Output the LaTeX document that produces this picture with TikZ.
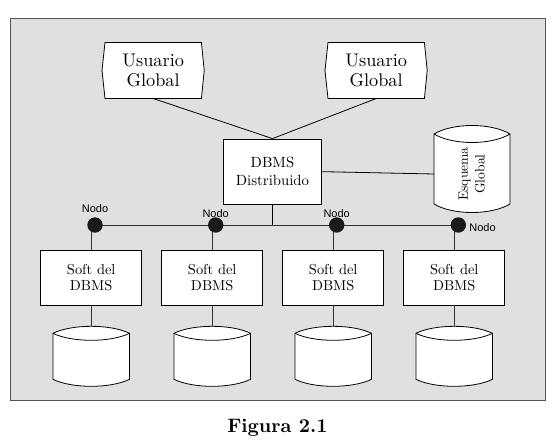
\documentclass[tikz,border=0pt]{standalone}
\usepackage{fontspec}
\setmainfont{lmroman10}[Extension=.otf, UprightFont=*-regular, BoldFont=*-bold]
\newfontfamily\nodofont{Liberation Sans}
\usetikzlibrary{calc}
\definecolor{bggray}{HTML}{E0E0E0}
\definecolor{framegray}{HTML}{555555}
\definecolor{wire}{HTML}{333333}
\definecolor{dotfill}{HTML}{1A1A1A}
\pgfdeclarelayer{back}
\pgfsetlayers{back,main}
% #1 name, #2 x left, #3 x right, #4 y of top corners, #5 y of bottom corners, #6 arc depth
\newcommand\dbcyl[6]{%
  \pgfmathsetmacro\cyca{#2+0.25*(#3-#2)}%
  \pgfmathsetmacro\cycb{#3-0.25*(#3-#2)}%
  \pgfmathsetmacro\cycu{#4-4/3*#6}%
  \pgfmathsetmacro\cycd{#4+4/3*#6}%
  \pgfmathsetmacro\cycbt{#5+4/3*#6}%
  \draw[cyl] (#2,#4) .. controls (\cyca,\cycu) and (\cycb,\cycu) .. (#3,#4)
     -- (#3,#5) .. controls (\cycb,\cycbt) and (\cyca,\cycbt) .. (#2,#5) -- cycle;
  \draw[cylarc] (#2,#4) .. controls (\cyca,\cycd) and (\cycb,\cycd) .. (#3,#4);
  \coordinate (#1-top) at ({(#2+#3)/2},{#4-#6});
}
\begin{document}
\begin{tikzpicture}[x=1pt,y=-1pt,
  usr/.style={minimum width=96pt, minimum height=55.6pt, inner sep=0pt, align=center,
    font=\fontsize{18.3}{19.3}\selectfont},
  usrshape/.style={draw=black, fill=white, line width=0.8pt},
  dbmsbox/.style={draw=black, fill=white, line width=0.8pt, minimum width=98.4pt,
    minimum height=65.3pt, inner sep=0pt, align=center, font=\fontsize{14.8}{17.7}\selectfont},
  softbox/.style={draw=black, fill=white, line width=0.8pt, minimum width=101pt,
    minimum height=55pt, inner sep=0pt, align=center, font=\fontsize{14.4}{16.7}\selectfont},
  nodedot/.style={circle, fill=dotfill, draw=none, minimum size=15.4pt, inner sep=0pt},
  nodolbl/.style={font=\nodofont\fontsize{11}{12}\selectfont, inner sep=0pt},
  wireline/.style={draw=black, line width=0.8pt},
  buswire/.style={draw=wire, line width=0.9pt},
  cyl/.style={draw=black, fill=white, line width=0.8pt},
  cylarc/.style={draw=black, line width=0.8pt}]

\useasboundingbox (0,0) rectangle (556,442);

% frame
\begin{pgfonlayer}{back}
  \draw[draw=framegray, fill=bggray, line width=0.9pt] (10,18.3) rectangle (545,400.7);
\end{pgfonlayer}

% global users
\node[usr] (u1) at (153.2,70.5) {Usuario\\Global};
\node[usr] (u2) at (376.2,70.5) {Usuario\\Global};
\begin{pgfonlayer}{back}
  \foreach \u in {u1,u2}{
    \draw[usrshape] (\u.north west) -- (\u.north east) -- ([xshift=2.8pt]\u.east)
      -- (\u.south east) -- (\u.south west) -- ([xshift=-3pt]\u.west) -- cycle;
  }
\end{pgfonlayer}

% distributed DBMS
\node[dbmsbox] (dbms) at (272.5,171.65) {DBMS\\Distribuido};

% global schema
\dbcyl{esq}{434}{510}{134}{204}{8.5}
\coordinate (esqL) at (434,174);
\node[rotate=90, align=center, inner sep=0pt, font=\fontsize{13.6}{16.7}\selectfont]
  (esqtxt) at (471.8,174) {Esquema\\Global};

% network nodes
\node[nodedot] (n1) at (95,225) {};
\node[nodedot] (n2) at (215.7,225) {};
\node[nodedot] (n3) at (336.7,225) {};
\node[nodedot] (n4) at (458.3,225) {};
\node[nodolbl] (l1) at (95,208.3) {Nodo};
\node[nodolbl] (l2) at (215.7,213.3) {Nodo};
\node[nodolbl] (l3) at (336.7,213.3) {Nodo};
\node[nodolbl] (l4) at (482.5,227.7) {Nodo};

% local DBMS software
\node[softbox] (s1) at (91.2,277.5) {Soft del\\DBMS};
\node[softbox] (s2) at (212.2,277.5) {Soft del\\DBMS};
\node[softbox] (s3) at (333.2,277.5) {Soft del\\DBMS};
\node[softbox] (s4) at (454.2,277.5) {Soft del\\DBMS};

% local databases
\dbcyl{c1}{52.9}{129.5}{333.3}{379.3}{7}
\dbcyl{c2}{173.9}{250.5}{333.3}{379.3}{7}
\dbcyl{c3}{294.9}{371.5}{333.3}{379.3}{7}
\dbcyl{c4}{415.9}{492.5}{333.3}{379.3}{7}

% connectors
\draw[wireline] (u1.south) -- (dbms.north);
\draw[wireline] (u2.south) -- (dbms.north);
\draw[wireline] (dbms.east) -- (esqL);
\coordinate (busmid) at (dbms.south |- n1);
\draw[wireline] (dbms.south) -- (busmid);
\begin{pgfonlayer}{back}
  \draw[buswire] (n1.center) -- (n4.center);
  \foreach \k in {1,2,3,4}{
    \draw[buswire] (s\k.north |- n\k) -- (s\k.north);
  }
\end{pgfonlayer}
\foreach \k in {1,2,3,4}{
  \draw[buswire] (s\k.south) -- (c\k-top);
}

% caption
\node[font=\bfseries\fontsize{19.5}{22}\selectfont] (cap) at (277.5,428) {Figura 2.1};
\end{tikzpicture}
\end{document}
